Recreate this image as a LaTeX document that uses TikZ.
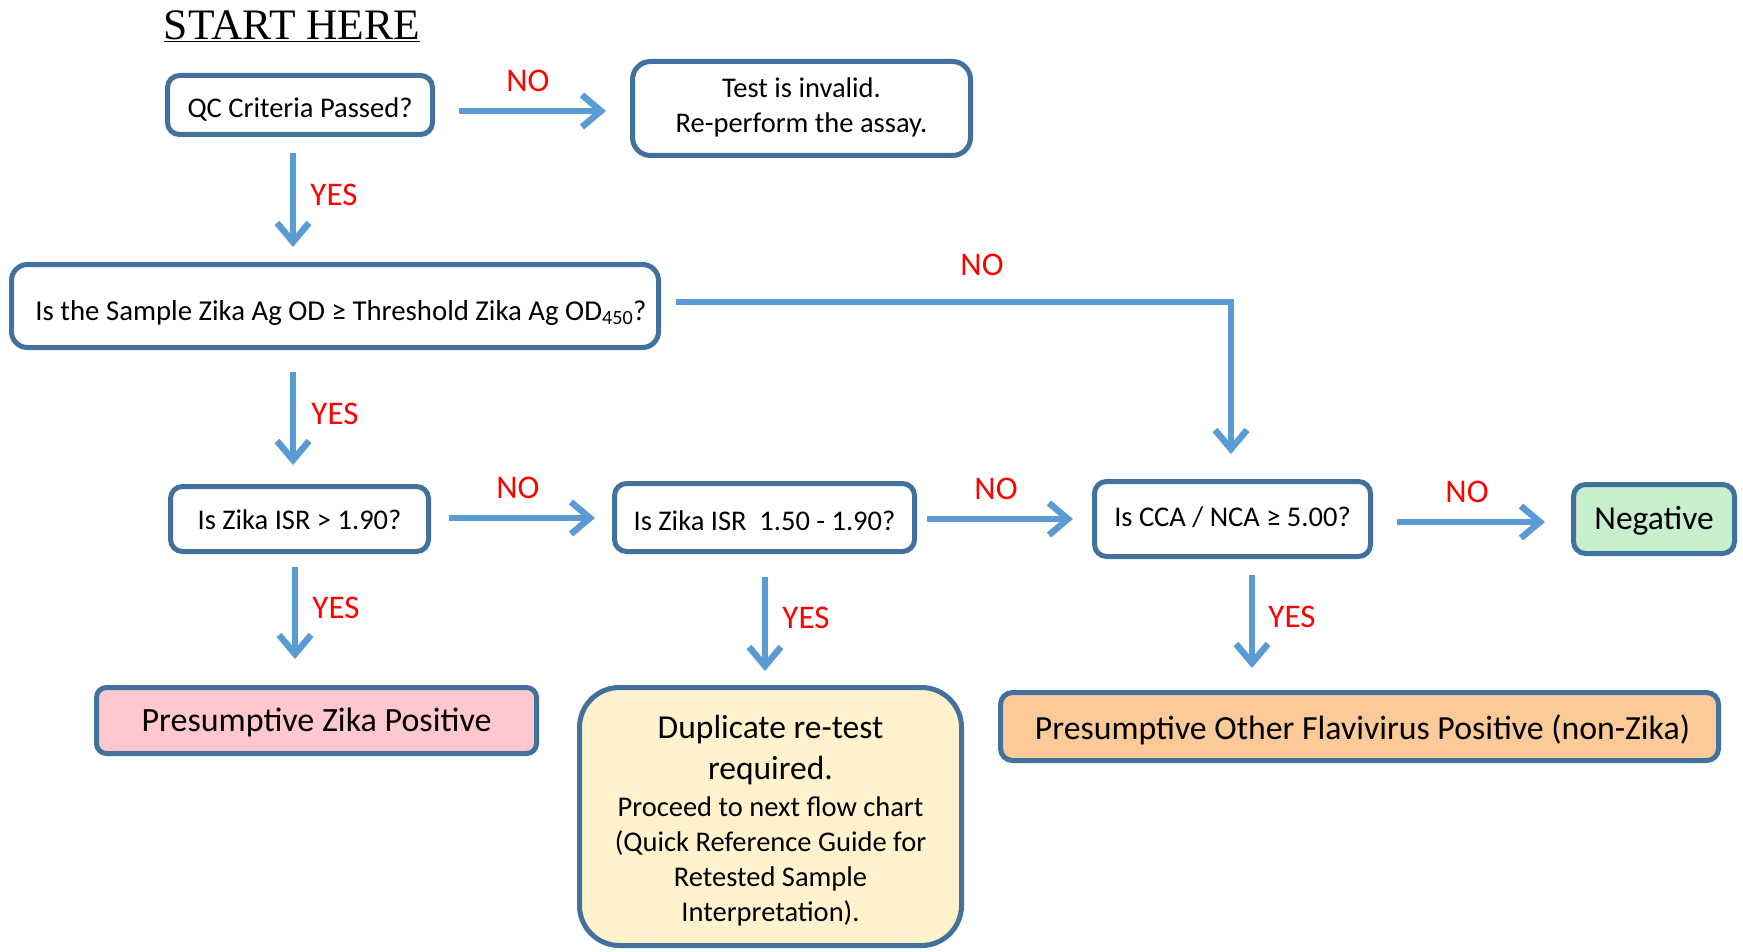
\documentclass[tikz,border=0pt]{standalone}
\usepackage{fontspec}
\setmainfont{Carlito}
\newfontfamily\startfont{Liberation Serif}
\usetikzlibrary{arrows.meta,calc}
\definecolor{boxline}{HTML}{41719C}
\definecolor{arrblue}{HTML}{5B9BD5}
\definecolor{pinkfill}{HTML}{FFC7CE}
\definecolor{greenfill}{HTML}{C6EFCE}
\definecolor{orangefill}{HTML}{FBCA98}
\definecolor{yellowfill}{HTML}{FFF2CC}
\definecolor{lblred}{HTML}{FF0000}
\newcommand{\dn}[2]{\raisebox{-#1}[\height][\depth]{#2}}
\begin{document}
\begin{tikzpicture}[x=1pt,y=-1pt,
 box/.style={draw=boxline, line width=5pt, rounded corners=12pt, fill=white, align=center, inner sep=0pt, font=\fontsize{28.5}{35}\selectfont},
 bigtext/.style={font=\fontsize{33.5}{40}\selectfont},
 arr/.style={draw=arrblue, line width=6.5pt, -{Straight Barb[length=19pt,width=32pt]}},
 lbl/.style={text=lblred, font=\fontsize{33}{40}\selectfont, inner sep=0pt},
]
\useasboundingbox[fill=white] (0,0) rectangle (1743,952);

\node[inner sep=0pt, font=\startfont\fontsize{43.5}{48}\selectfont] (start) at (292,26) {\underline{START HERE}};

\node[box, minimum width=265pt, minimum height=59pt] (qc) at (300,105) {\dn{4.5pt}{QC Criteria Passed?}};
\node[box, rounded corners=18pt, minimum width=338pt, minimum height=94pt] (inv) at (801.5,108.5) {\dn{-1.5pt}{Test is invalid.}\\\dn{-1.5pt}{Re-perform the assay.}};
\node[box, rounded corners=16pt, minimum width=647pt, minimum height=83pt] (samp) at (335,306) {\hspace*{12pt}\dn{6.5pt}{\fontsize{28.8}{35}\selectfont Is the Sample Zika Ag OD ≥ Threshold Zika Ag OD\textsubscript{450}?}};
\node[box, minimum width=258pt, minimum height=65pt] (isr1) at (299.5,519) {\dn{1pt}{Is Zika ISR > 1.90?}};
\node[box, minimum width=300pt, minimum height=68pt] (isr2) at (764.5,517.5) {\dn{3.3pt}{Is Zika ISR\ \ 1.50 - 1.90?}};
\node[box, minimum width=276pt, minimum height=75pt] (cca) at (1232.5,519) {\dn{-2pt}{Is CCA / NCA ≥ 5.00?}};
\node[box, bigtext, fill=greenfill, minimum width=161pt, minimum height=69pt] (neg) at (1654,519) {\dn{2pt}{Negative}};
\node[box, bigtext, fill=pinkfill, rounded corners=10pt, minimum width=440pt, minimum height=66pt] (pos) at (316.5,720.5) {\dn{2pt}{\fontsize{34}{40}\selectfont Presumptive Zika Positive}};
\node[box, fill=yellowfill, rounded corners=40pt, minimum width=382pt, minimum height=258pt] (dup) at (770.5,816.5) {\dn{4.4pt}{\fontsize{33.5}{40}\selectfont Duplicate re-test}\\[6pt]\dn{4.4pt}{\fontsize{33.5}{40}\selectfont required.}\\[2pt]\dn{4.4pt}{Proceed to next flow chart}\\\dn{4.4pt}{(Quick Reference Guide for}\\\dn{4.4pt}{Retested Sample}\\\dn{4.4pt}{Interpretation).}};
\node[box, bigtext, fill=orangefill, minimum width=718pt, minimum height=68pt] (oth) at (1359.5,726.5) {\hspace*{6pt}\dn{3.3pt}{\fontsize{33.8}{40}\selectfont Presumptive Other Flavivirus Positive (non-Zika)}};

\draw[arr] ($(qc.east)+(24,6)$) -- ($(inv.west)+(-24,2.5)$);
\draw[arr] ($(qc.south)+(-7,16)$) -- ($(samp.north)+(-42,-15)$);
\draw[arr] ($(samp.east)+(15,-4)$) -| ($(cca.north)+(-1.5,-25)$);
\draw[arr] ($(samp.south)+(-42,22)$) -- ($(isr1.north)+(-6.5,-19)$);
\draw[arr] ($(isr1.east)+(18,-1)$) -- ($(isr2.west)+(-17,0.5)$);
\draw[arr] ($(isr2.east)+(10,1.5)$) -- ($(cca.west)+(-19,0)$);
\draw[arr] ($(cca.east)+(24,3)$) -- ($(neg.west)+(-26,3)$);
\draw[arr] ($(isr1.south)+(-4.5,13)$) -- ($(pos.north)+(-21.5,-26)$);
\draw[arr] ($(isr2.south)+(0.5,23)$) -- ($(dup.north)+(-5.5,-14)$);
\draw[arr] ($(cca.south)+(19.5,16)$) -- ($(oth.north)+(-107.5,-22)$);

\node[lbl] (no1) at (528,81) {NO};
\node[lbl] (yes1) at (334,195) {YES};
\node[lbl] (no2) at (982,265) {NO};
\node[lbl] (yes2) at (335,414) {YES};
\node[lbl] (no3) at (518,488) {NO};
\node[lbl] (no4) at (996,489) {NO};
\node[lbl] (no5) at (1467,492) {NO};
\node[lbl] (yes3) at (336,608) {YES};
\node[lbl] (yes4) at (806,618) {YES};
\node[lbl] (yes5) at (1292,617) {YES};
\end{tikzpicture}
\end{document}
